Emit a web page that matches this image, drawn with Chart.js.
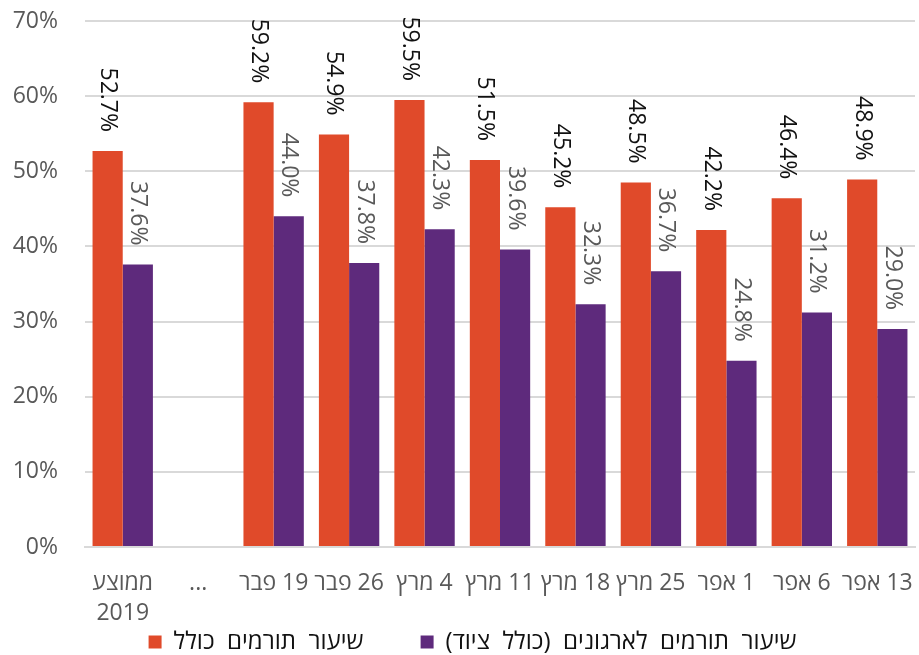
<!DOCTYPE html>
<html>
<head>
<meta charset="utf-8">
<script src="https://cdn.jsdelivr.net/npm/chart.js@4/dist/chart.umd.min.js"></script>
<style>
  body { margin: 0; background: #fff; }
  #wrap { width: 919px; height: 655px; }
</style>
</head>
<body>
<div id="wrap"><canvas id="donorsChart" width="919" height="655"></canvas></div>
<script>
// RLE ... PDF so that date labels read right-to-left like in the original
const rtl = (s) => '\u202B' + s + '\u202C';

const categories = [['ממוצע', '2019'], '...', rtl('19 פבר'), rtl('26 פבר'), rtl('4 מרץ'), rtl('11 מרץ'), rtl('18 מרץ'), rtl('25 מרץ'), rtl('1 אפר'), rtl('6 אפר'), rtl('13 אפר')];
const totalRate = [52.7, null, 59.2, 54.9, 59.5, 51.5, 45.2, 48.5, 42.2, 46.4, 48.9];
const orgRate = [37.6, null, 44.0, 37.8, 42.3, 39.6, 32.3, 36.7, 24.8, 31.2, 29.0];
const seriesNames = ['שיעור  תורמים  כולל', 'שיעור  תורמים  לארגונים  (כולל  ציוד)'];
const yTicks = [0, 10, 20, 30, 40, 50, 60, 70];

const FONT = '"Open Sans", "DejaVu Sans", sans-serif';

// vertical value labels above each bar
const barLabels = {
    id: 'barLabels',
    afterDatasetsDraw(chart) {
        const ctx = chart.ctx;
        const colors = ['#111111', '#595959'];
        chart.data.datasets.forEach((ds, i) => {
            const meta = chart.getDatasetMeta(i);
            meta.data.forEach((bar, j) => {
                const v = ds.data[j];
                if (v === null) return;
                ctx.save();
                ctx.translate(bar.x, bar.y - 19);
                ctx.rotate(Math.PI / 2);
                ctx.font = '23px ' + FONT;
                ctx.fillStyle = colors[i];
                ctx.textAlign = 'right';
                ctx.textBaseline = 'middle';
                ctx.fillText(v.toFixed(1) + '%', 0, 0);
                ctx.restore();
            });
        });
    }
};

// legend sits a little right of the canvas centre in the original
const legendShift = {
    id: 'legendShift',
    afterLayout(chart) {
        if (chart.legend) {
            chart.legend.left += 15;
            chart.legend.right += 15;
        }
    }
};

new Chart(document.getElementById('donorsChart'), {
    type: 'bar',
    data: {
        labels: categories,
        datasets: [
            { label: seriesNames[0], data: totalRate, backgroundColor: '#E04A2A', categoryPercentage: 0.8, barPercentage: 1 },
            { label: seriesNames[1], data: orgRate, backgroundColor: '#5E2A7C', categoryPercentage: 0.8, barPercentage: 1 }
        ]
    },
    options: {
        responsive: false,
        animation: false,
        layout: { padding: { top: 21, right: 4, left: 0, bottom: -9 } },
        plugins: {
            legend: {
                position: 'bottom',
                labels: {
                    font: { family: FONT, size: 24 },
                    color: '#111111',
                    boxWidth: 13,
                    boxHeight: 13,
                    padding: 3,
                    // wider gap after the first item (padding also sets the legend height)
                    generateLabels: (chart) => {
                        const items = Chart.defaults.plugins.legend.labels.generateLabels(chart);
                        items[0].text = items[0].text + '\u2003\u2003 ';
                        return items;
                    }
                }
            },
            tooltip: { enabled: false }
        },
        scales: {
            y: {
                min: 0,
                max: 70,
                afterBuildTicks: (scale) => { scale.ticks = yTicks.map(v => ({ value: v })); },
                afterFit: (scale) => {
                    scale.width = 85;
                    scale.paddingTop = 0;
                    scale.paddingBottom = 0;
                },
                ticks: {
                    font: { family: FONT, size: 23 },
                    color: '#595959',
                    padding: 27,
                    callback: (v) => v + '%'
                },
                grid: { color: '#d9d9d9', lineWidth: 2, drawTicks: false },
                border: { display: false }
            },
            x: {
                afterFit: (scale) => {
                    scale.height = 80;
                    scale.paddingLeft = 0;
                    scale.paddingRight = 0;
                },
                ticks: {
                    font: { family: FONT, size: 23, lineHeight: 1.3 },
                    color: '#595959',
                    padding: 14,
                    maxRotation: 0,
                    autoSkip: false
                },
                grid: { display: false },
                border: { color: '#d9d9d9', width: 2 }
            }
        }
    },
    plugins: [barLabels, legendShift]
});
</script>
</body>
</html>
